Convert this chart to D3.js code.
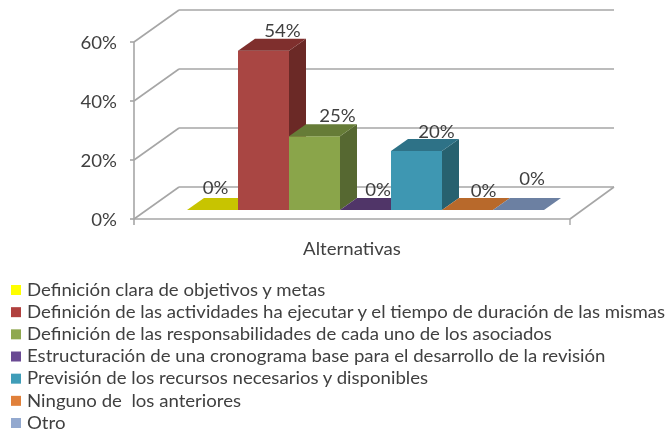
<!DOCTYPE html>
<html><head><meta charset="utf-8">
<script src="https://cdnjs.cloudflare.com/ajax/libs/d3/7.8.5/d3.min.js"></script>
<style>html,body{margin:0;padding:0;background:#fff}svg{display:block;filter:blur(.45px)}text{font-family:Lato,"Open Sans",sans-serif;fill:#404040;font-size:17px;dominant-baseline:middle;white-space:pre}</style>
</head><body><svg id="c" width="669" height="432"></svg>
<script>
const categories=["Definición clara de objetivos y metas","Definición de las actividades ha ejecutar y el tiempo de duración de las mismas","Definición de las responsabilidades de cada uno de los asociados","Estructuración de una cronograma base para el desarrollo de la revisión","Previsión de los recursos necesarios y disponibles","Ninguno de  los anteriores","Otro"];
const values=[0,54,25,0,20,0,0];
const labels=["0%","54%","25%","0%","20%","0%","0%"];
const frontColors=["#cdc800","#a94643","#8aa54a","#5b3f78","#3e97b2","#c0702f","#7086a8"];
const topColors=["#c8c400","#7f2f2d","#667c37","#503568","#2e7287","#b8692b","#6c80a2"];
const sideColors=["#a8a400","#6b2926","#566831","#42305a","#27616f","#9a5a26","#5b6e8c"];
const legendColors=["#ffff00","#b0403e","#8fa84f","#6a4a93","#3f9db8","#e0803a","#93a9cf"];
const yTicks=[0,20,40,60];
const axisTitle="Alternativas";

const svg=d3.select("#c");
const yScale=d3.scaleLinear().domain([0,60]).range([219,42]);
const xScale=d3.scaleBand().domain(d3.range(values.length)).range([187,544]);
const wall={dx:45,dy:-32}, wallLeft=134, wallRight=570;
const bar={dx:17,dy:-12,base:-9};
const grid="#a6a6a6";
const stretch=(px,py)=>`translate(${px},${py}) scale(1.095,1)`;
const line=(x1,y1,x2,y2,w=1.6)=>svg.append("line").attr("x1",x1).attr("y1",y1).attr("x2",x2).attr("y2",y2).attr("stroke",grid).attr("stroke-width",w);

// back wall gridlines and their side-wall diagonals
yTicks.forEach(t=>{
  line(wallLeft,yScale(t),wallLeft+wall.dx,yScale(t)+wall.dy);
  line(wallLeft+wall.dx,yScale(t)+wall.dy,wallRight+wall.dx-1,yScale(t)+wall.dy);
});
// floor front and right edge
line(wallRight,yScale(0),wallRight+wall.dx-1,yScale(0)+wall.dy);
line(wallLeft,yScale(0),wallRight,yScale(0));
// vertical axis with ticks
line(wallLeft,yScale(60),wallLeft,yScale(0)+6);
yTicks.forEach(t=>line(wallLeft-4,yScale(t),wallLeft,yScale(t)));
line(wallRight,yScale(0),wallRight,yScale(0)+6,1.4);

// y axis labels
svg.append("g").selectAll("text").data(yTicks).join("text")
  .attr("transform",d=>stretch(117,yScale(d)+3)).attr("text-anchor","end").text(d=>d+"%");

// bars
const poly=p=>p.map(q=>q.join(",")).join(" ");
const bars=svg.append("g").selectAll("g").data(values).join("g");
const b0=yScale(0)+bar.base, barTop=v=>yScale(v)+bar.base;
bars.append("polygon").attr("fill",(d,i)=>sideColors[i]).attr("points",(d,i)=>{
  const r=xScale(i)+xScale.bandwidth();
  return poly([[r,barTop(d)],[r+bar.dx,barTop(d)+bar.dy],[r+bar.dx,b0+bar.dy],[r,b0]]);});
bars.append("rect").attr("fill",(d,i)=>frontColors[i]).attr("x",(d,i)=>xScale(i)).attr("width",xScale.bandwidth())
  .attr("y",d=>barTop(d)).attr("height",d=>b0-barTop(d));
bars.append("polygon").attr("fill",(d,i)=>topColors[i]).attr("points",(d,i)=>{
  const l=xScale(i),r=l+xScale.bandwidth();
  return poly([[l,barTop(d)],[r,barTop(d)],[r+bar.dx,barTop(d)+bar.dy],[l+bar.dx,barTop(d)+bar.dy]]);});

// value labels
const nudgeX=[3,19,23,12.5,20,16,13.5], nudgeY=[-21,-19,-20,-19,-18,-18,-30];
svg.append("g").selectAll("text").data(values).join("text")
  .attr("transform",(d,i)=>stretch(xScale(i)+xScale.bandwidth()/2+nudgeX[i],barTop(d)+nudgeY[i]+1))
  .attr("text-anchor","middle").text((d,i)=>labels[i]);

svg.append("text").attr("transform",stretch(352,251)).attr("text-anchor","middle").text(axisTitle);

// legend
const ly=d3.scalePoint().domain(d3.range(categories.length)).range([290,423]);
const lg=svg.append("g").selectAll("g").data(categories).join("g");
lg.append("rect").attr("x",11).attr("y",(d,i)=>ly(i)-5).attr("width",10).attr("height",10).attr("fill",(d,i)=>legendColors[i]);
lg.append("text").attr("transform",(d,i)=>stretch(27,ly(i)+1.5)).text(d=>d);
</script></body></html>
